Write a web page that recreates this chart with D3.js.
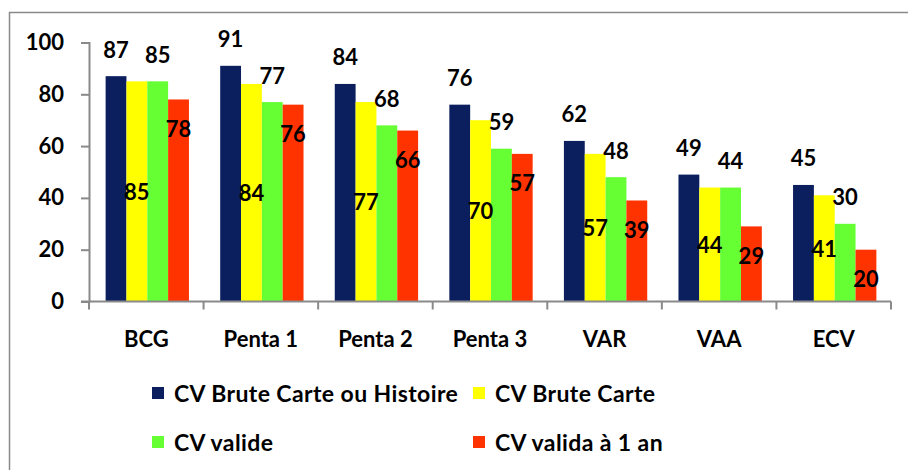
<!DOCTYPE html>
<html>
<head>
<meta charset="utf-8">
<script src="https://cdn.jsdelivr.net/npm/d3@7"></script>
<style>
    body { margin: 0; background: #ffffff; }
    svg { display: block; }
</style>
</head>
<body>
<svg id="chart"></svg>
<script>
// chart data
const categories = ['BCG', 'Penta 1', 'Penta 2', 'Penta 3', 'VAR', 'VAA', 'ECV'];
const seriesNames = ['CV Brute Carte ou Histoire', 'CV Brute Carte', 'CV valide', 'CV valida à 1 an'];
const bruteCarteHistoire = [87, 91, 84, 76, 62, 49, 45];
const bruteCarte = [85, 84, 77, 70, 57, 44, 41];
const valide = [85, 77, 68, 59, 48, 44, 30];
const valideUnAn = [78, 76, 66, 57, 39, 29, 20];
const yTicks = [0, 20, 40, 60, 80, 100];

const seriesValues = [bruteCarteHistoire, bruteCarte, valide, valideUnAn];
const colours = ['#0b1f5e', '#ffff00', '#66ff33', '#ff3300'];

const WIDTH = 908;
const HEIGHT = 470;
const FONT = 'Lato, "Open Sans", sans-serif';
const AXIS_COLOUR = '#8a8a8a';

const svg = d3.select('#chart')
    .attr('width', WIDTH)
    .attr('height', HEIGHT)
    .style('background', '#ffffff');

// outer frame (cut off at right and bottom like the source)
svg.append('rect')
    .attr('x', 9.5)
    .attr('y', 12.5)
    .attr('width', 920)
    .attr('height', 480)
    .attr('fill', 'none')
    .attr('stroke', AXIS_COLOUR)
    .attr('stroke-width', 1.5);

const x0 = d3.scaleBand()
    .domain(categories)
    .range([89, 891])
    .paddingInner(0)
    .paddingOuter(0);

// Excel style gap: 4 bars + 1.5 bar widths of gap per category
const barW = x0.bandwidth() / 5.5;
const gap = barW * 1.5;
const x1 = d3.scaleBand()
    .domain(d3.range(seriesValues.length))
    .range([gap / 2 + 1, x0.bandwidth() - gap / 2 + 1]);

const y = d3.scaleLinear()
    .domain([0, 100])
    .range([301.5, 42.5]);

// bars
const groups = svg.append('g')
    .selectAll('g')
    .data(categories)
    .join('g')
    .attr('transform', d => `translate(${x0(d)},0)`);

groups.selectAll('rect')
    .data((d, i) => seriesValues.map((s, k) => ({k, v: s[i]})))
    .join('rect')
    .attr('x', d => x1(d.k))
    .attr('y', d => y(d.v))
    .attr('width', x1.bandwidth())
    .attr('height', d => y(0) - y(d.v))
    .attr('fill', d => colours[d.k]);

// data labels: blue & green outside end, yellow centred, red inside
groups.selectAll('text.value')
    .data((d, i) => seriesValues.map((s, k) => ({k, v: s[i]})))
    .join('text')
    .attr('class', 'value')
    .attr('x', d => x1(d.k) + x1.bandwidth() / 2)
    .attr('y', d => {
        if (d.k === 1) return (y(d.v) + y(0)) / 2;
        if (d.k === 3) return y(d.v) + 29;
        return y(d.v) - 27;
    })
    .attr('text-anchor', 'middle')
    .attr('dominant-baseline', 'central')
    .attr('font-family', FONT)
    .attr('font-weight', 'bold')
    .attr('font-size', '22px')
    .attr('fill', '#000000')
    .text(d => d.v);

// y axis
const yAxis = svg.append('g')
    .attr('transform', 'translate(89,0)')
    .call(d3.axisLeft(y).tickValues(yTicks).tickSize(8).tickPadding(17));
yAxis.select('.domain').attr('stroke', AXIS_COLOUR).attr('stroke-width', 2);
yAxis.selectAll('.tick line').attr('stroke', AXIS_COLOUR).attr('stroke-width', 2);
yAxis.selectAll('.tick text')
    .attr('font-family', FONT)
    .attr('font-weight', 'bold')
    .attr('font-size', '22px')
    .attr('fill', '#000000');

// x axis with ticks between categories
const xAxis = svg.append('g')
    .attr('transform', `translate(0,${y(0)})`);
xAxis.append('line')
    .attr('x1', x0.range()[0] - 8)
    .attr('x2', x0.range()[1])
    .attr('stroke', AXIS_COLOUR)
    .attr('stroke-width', 2);
xAxis.selectAll('line.tick')
    .data(categories.concat(['end']))
    .join('line')
    .attr('class', 'tick')
    .attr('x1', (d, i) => x0.range()[0] + i * x0.step())
    .attr('x2', (d, i) => x0.range()[0] + i * x0.step())
    .attr('y1', 0)
    .attr('y2', 8)
    .attr('stroke', AXIS_COLOUR)
    .attr('stroke-width', 2);
xAxis.selectAll('text')
    .data(categories)
    .join('text')
    .attr('x', d => x0(d) + x0.bandwidth() / 2)
    .attr('y', 37)
    .attr('text-anchor', 'middle')
    .attr('dominant-baseline', 'central')
    .attr('font-family', FONT)
    .attr('font-weight', 'bold')
    .attr('font-size', '22px')
    .attr('fill', '#000000')
    .text(d => d);

// legend, 2 columns
const legendCols = [152, 473];
const legendRows = [393, 442];
const legend = svg.append('g')
    .selectAll('g')
    .data(seriesNames)
    .join('g')
    .attr('transform', (d, i) => `translate(${legendCols[i % 2]},${legendRows[Math.floor(i / 2)]})`);

legend.append('rect')
    .attr('x', 0)
    .attr('y', -6)
    .attr('width', 12)
    .attr('height', 12)
    .attr('fill', (d, i) => colours[i]);

legend.append('text')
    .attr('x', 22)
    .attr('y', 0)
    .attr('dominant-baseline', 'central')
    .attr('font-family', FONT)
    .attr('font-weight', 'bold')
    .attr('font-size', '23px')
    .attr('letter-spacing', '0.4px')
    .attr('fill', '#000000')
    .text(d => d);
</script>
</body>
</html>
